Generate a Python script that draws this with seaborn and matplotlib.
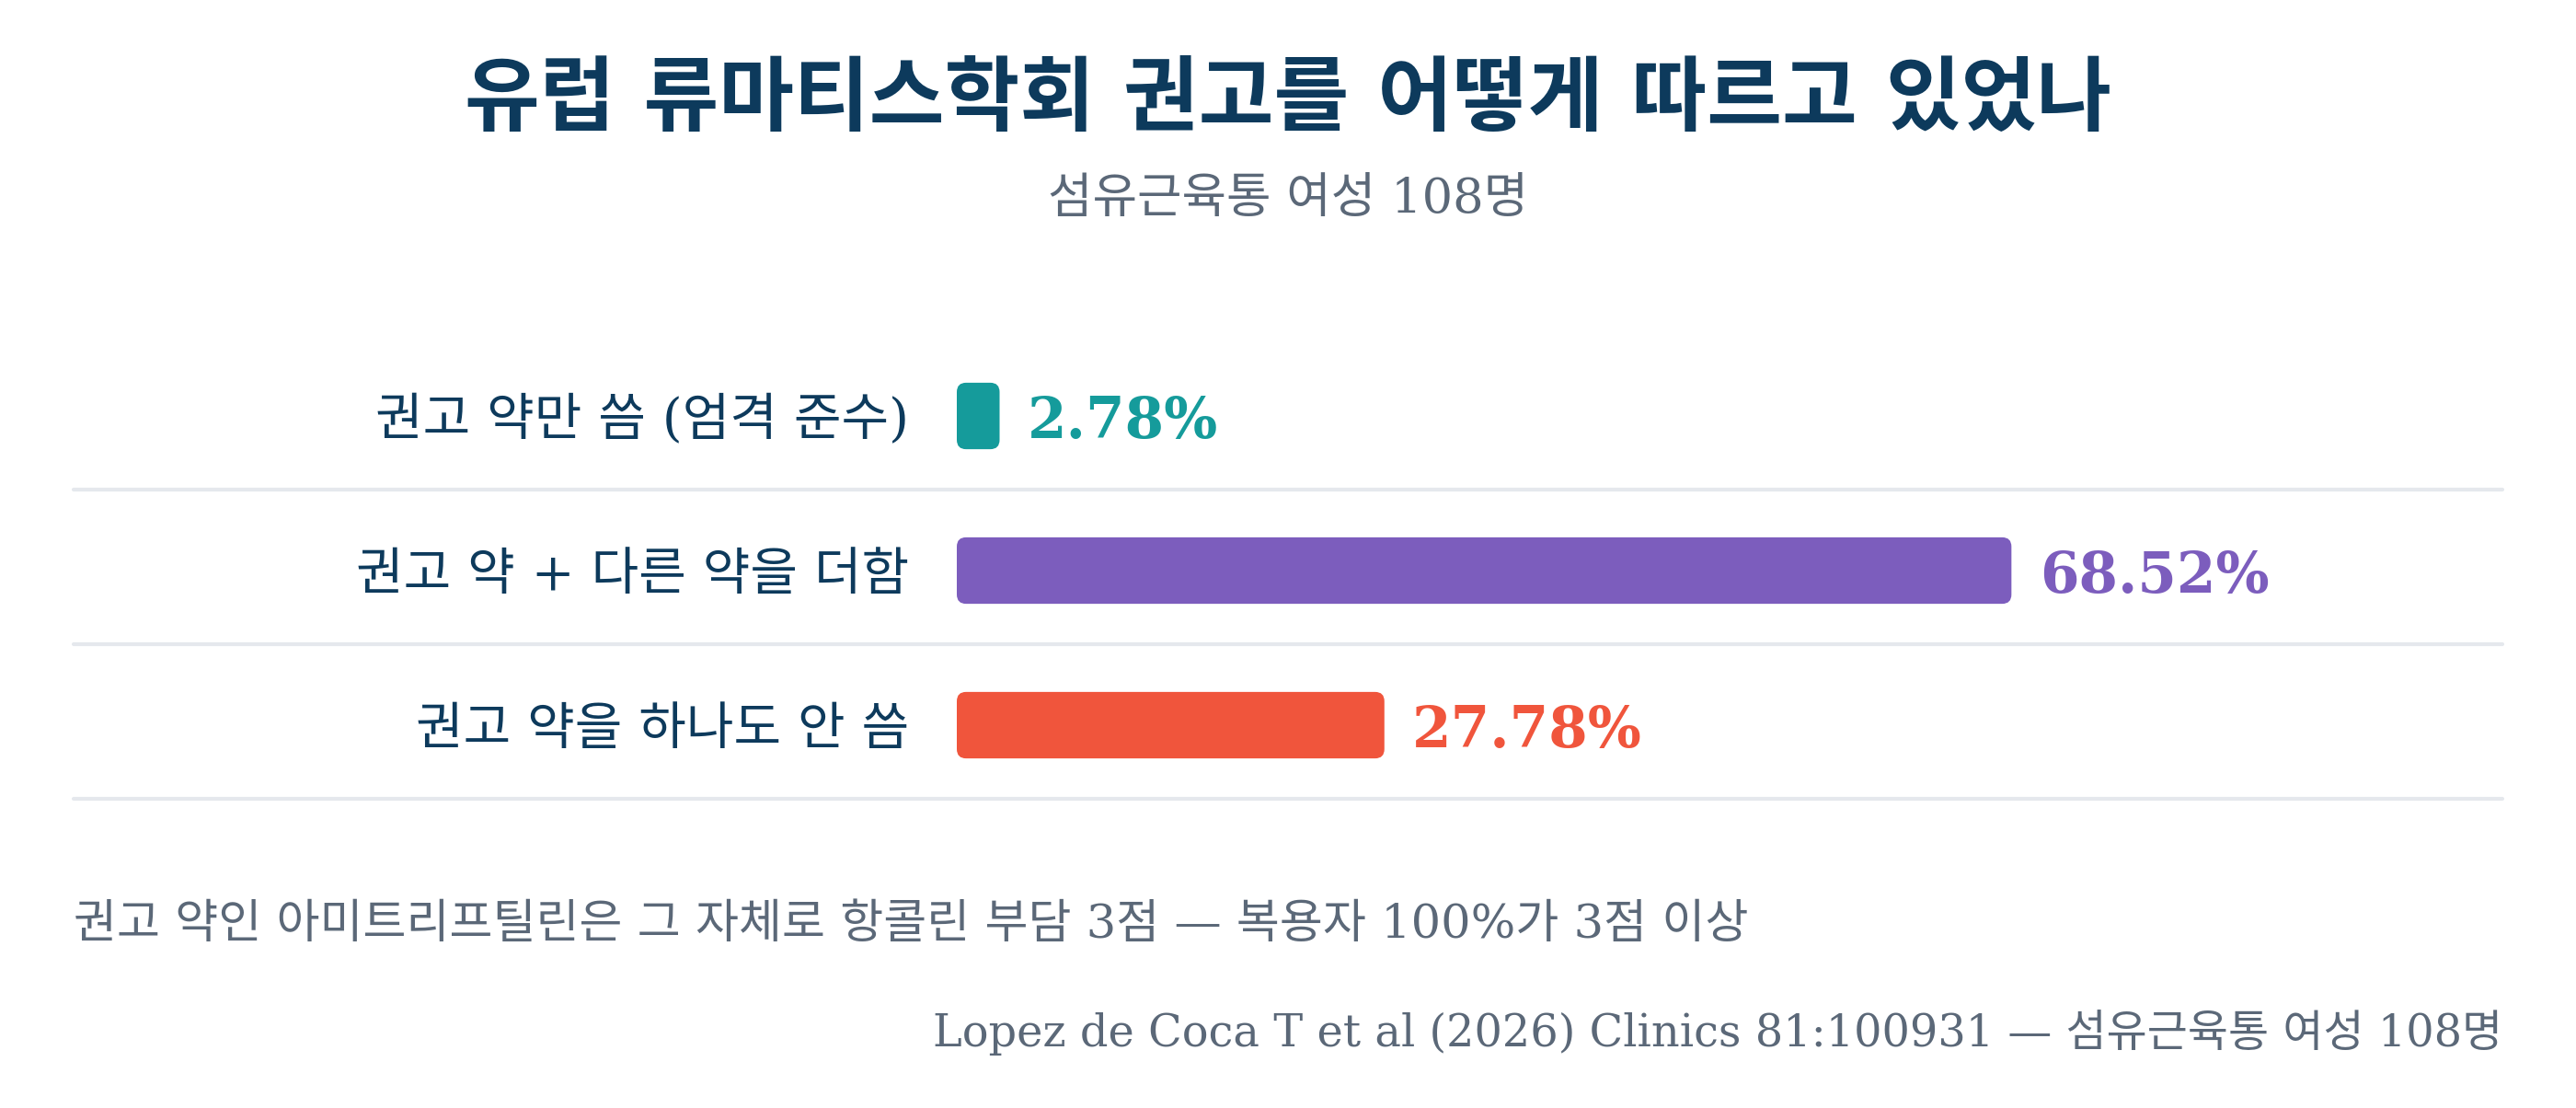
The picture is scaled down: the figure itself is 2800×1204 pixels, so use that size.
import matplotlib
matplotlib.use('Agg')
import matplotlib.pyplot as plt
import seaborn as sns
import pandas as pd
from matplotlib.patches import FancyBboxPatch

# data
categories = ['권고 약만 씀 (엄격 준수)', '권고 약 + 다른 약을 더함', '권고 약을 하나도 안 씀']
shares = [2.78, 68.52, 27.78]
bar_colors = ['#159b9b', '#7c5dbd', '#f0553c']

title = '유럽 류마티스학회 권고를 어떻게 따르고 있었나'
subtitle = '섬유근육통 여성 108명'
note = '권고 약인 아미트리프틸린은 그 자체로 항콜린 부담 3점 — 복용자 100%가 3점 이상'
source = 'Lopez de Coca T et al (2026) Clinics 81:100931 — 섬유근육통 여성 108명'

navy = '#0d3a5c'
grey = '#5b6878'
rule = '#e5e8ed'

sns.set_theme(style='white')
plt.rcParams['font.family'] = ['DejaVu Serif', 'Noto Sans CJK KR']

df = pd.DataFrame({'group': categories, 'share': shares})

fig = plt.figure(figsize=(14, 6.02), dpi=200)
fig.patch.set_facecolor('white')
ax = fig.add_axes([0.37143, 0.27575, 0.5975, 0.4186])

sns.barplot(data=df, x='share', y='group', hue='group', palette=bar_colors,
            width=0.43, saturation=1, legend=False, ax=ax)

ax.set_xlim(0, 100)
ax.set_ylim(2.5, -0.5)

# swap plain rectangles for rounded ones
for p in list(ax.patches):
    x0, y0 = p.get_x(), p.get_y()
    w, h = p.get_width(), p.get_height()
    rb = FancyBboxPatch((x0, y0), w, h,
                        boxstyle='round,pad=0,rounding_size=0.6',
                        mutation_aspect=0.06 / 0.6,
                        facecolor=p.get_facecolor(), edgecolor='none')
    p.remove()
    ax.add_patch(rb)

for i, (v, c) in enumerate(zip(shares, bar_colors)):
    ax.annotate(f'{v:.2f}%', xy=(v, i), xytext=(11, -8.7), textcoords='offset points',
                ha='left', va='baseline', fontsize=22, fontweight='bold',
                color=c, family='DejaVu Serif')
    ax.axhline(i + 0.476, xmin=-0.5738, xmax=1.0042, color=rule, lw=1.5,
               clip_on=False, zorder=0)

ax.set_xlabel('')
ax.set_ylabel('')
ax.set_xticks([])
ax.tick_params(axis='y', length=0, pad=18.5)
for lab in ax.get_yticklabels():
    lab.set_fontsize(20.2)
    lab.set_color(navy)
sns.despine(ax=ax, left=True, bottom=True)

fig.text(0.5, 0.908, title, ha='center', va='center', fontsize=32,
         fontweight='bold', color=navy)
fig.text(0.5, 0.820, subtitle, ha='center', va='center', fontsize=19, color=grey)
fig.text(80 / 2800, 0.165, note, ha='left', va='center', fontsize=18.4, color=grey)
fig.text(2720 / 2800, 0.068, source, ha='right', va='center', fontsize=17.25, color=grey)

fig.savefig('out.png', dpi=200, facecolor='white')
